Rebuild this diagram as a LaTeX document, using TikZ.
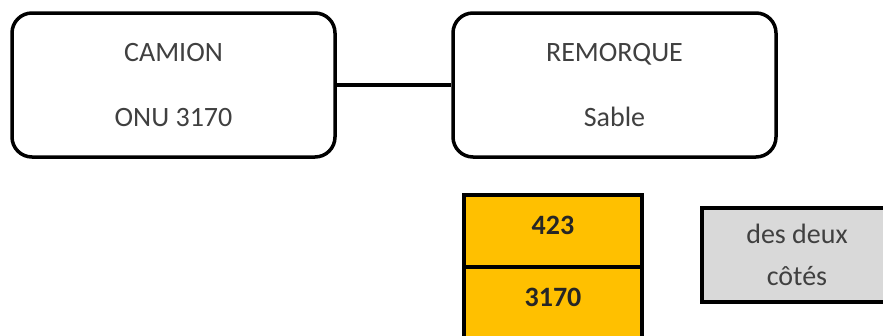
\documentclass[tikz,border=0pt]{standalone}
\usepackage{fontspec}
\setmainfont{Carlito}
\definecolor{txtgray}{HTML}{404040}
\definecolor{boxorange}{HTML}{FFC000}
\definecolor{boxgray}{HTML}{D9D9D9}
\tikzset{
  roundbox/.style={draw=black, line width=3.5pt, rounded corners=20pt, fill=white,
    minimum width=323pt, minimum height=144pt, inner sep=0pt, align=center,
    text=txtgray, font=\fontsize{28}{65}\selectfont},
  numbox/.style={draw=black, line width=3.5pt, fill=boxorange,
    minimum width=178pt, minimum height=72pt, inner sep=0pt},
  numtext/.style={font=\fontsize{28}{32}\selectfont\bfseries, text=black!85, inner sep=0pt},
  greybox/.style={draw=black, line width=3.5pt, fill=boxgray,
    minimum width=190pt, minimum height=94pt, inner sep=0pt, align=center,
    text=txtgray, font=\fontsize{28}{42}\selectfont},
  link/.style={draw=black, line width=3.5pt}
}
\begin{document}
\begin{tikzpicture}[x=1pt,y=1pt]
  \useasboundingbox (0,0) rectangle (883,-335);
  \clip (0,0) rectangle (883,-335);
  \node[roundbox] (camion) at (173.5,-85) {CAMION\\ONU 3170};
  \node[roundbox] (remorque) at (614.5,-85) {REMORQUE\\Sable};
  \draw[link] (camion.east) -- (remorque.west);
  \node[numbox] (o1) at (553,-231) {};
  \node[numbox] (o2) at (553,-303) {};
  \node[numtext] (t1) at (553,-225) {423};
  \node[numtext] (t2) at (553,-297) {3170};
  \node[greybox] (g) at (797,-255) {des deux\\côtés};
\end{tikzpicture}
\end{document}
